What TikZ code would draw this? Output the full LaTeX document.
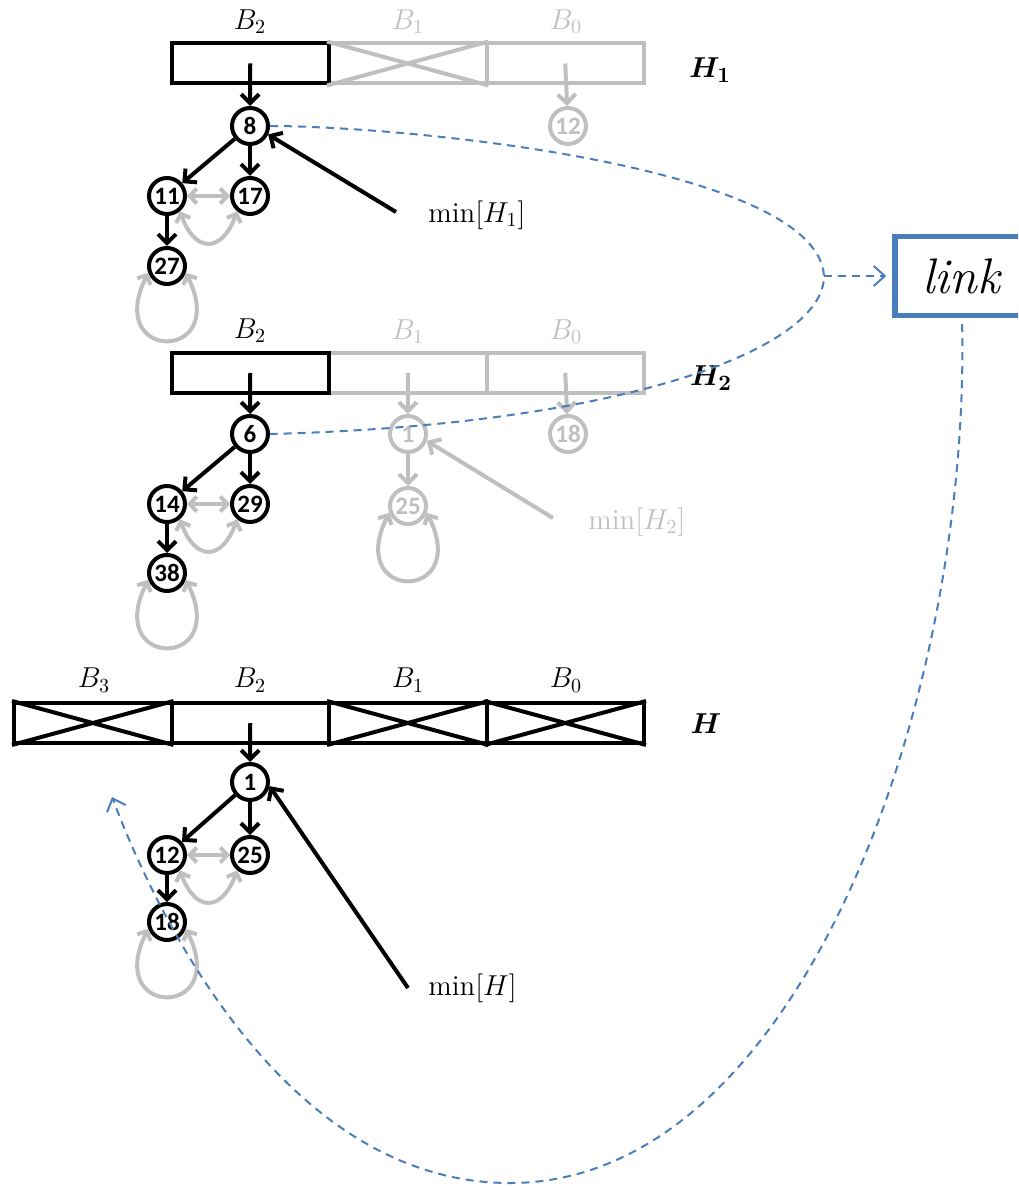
\documentclass[tikz,border=0pt]{standalone}
\usepackage{fontspec}
\usepackage{bm}
\usetikzlibrary{arrows.meta}
\newfontfamily\numfont{Carlito}
\definecolor{lgray}{HTML}{BFBFBF}
\definecolor{lblue}{HTML}{4A7EBB}
\tikzset{
    hnode/.style={circle,draw,line width=2pt,minimum size=18pt,inner sep=0pt,
        font=\numfont\bfseries\fontsize{12.5}{14}\selectfont},
    ghnode/.style={hnode,draw=lgray,text=lgray},
    ptr/.style={line width=2pt,-{Straight Barb[length=4.5pt,width=9pt]}},
    gptr/.style={ptr,draw=lgray},
    sib/.style={line width=2pt,lgray,
        {Straight Barb[length=3.5pt,width=7.5pt]}-{Straight Barb[length=3.5pt,width=7.5pt]}},
    cell/.style={rectangle,draw,line width=2pt,minimum width=78.75pt,minimum height=20pt,inner sep=0pt},
    gcell/.style={cell,draw=lgray},
    lbl/.style={inner sep=0pt,font=\fontsize{14.4}{17}\selectfont},
    hlbl/.style={inner sep=0pt,font=\fontsize{15}{18}\selectfont},
    linkbox/.style={draw=lblue,line width=2.75pt,minimum width=67pt,minimum height=39.5pt,
        font=\fontsize{25}{29}\selectfont},
    bref/.style={lblue,line width=1pt,dash pattern=on 4pt off 3pt},
    bhead/.style={-{Straight Barb[length=5.5pt,width=10pt]}}
}
\begin{document}
\begin{tikzpicture}[x=0.5pt,y=-0.5pt]
    \clip (0,0) rectangle (1018,1186);

    % Montículo H_1
    \node[gcell] (a1) at (407.75,63.5) {};
    \node[gcell] (a0) at (565.25,63.5) {};
    \node[cell] (a2) at (250.25,63.5) {};
    \draw[lgray,line width=2pt] (a1.north west) -- (a1.south east) (a1.south west) -- (a1.north east);
    \node[lbl] (la2) at (250,22) {$B_2$};
    \node[lbl,text=lgray] (la1) at (408,22) {$B_1$};
    \node[lbl,text=lgray] (la0) at (566,22) {$B_0$};
    \node[hlbl] (h1) at (710,70) {$\bm{H_1}$};

    \node[hnode] (n8) at (250,126) {8};
    \node[ghnode] (n12a) at (568,126) {12};
    \node[hnode] (n11) at (167,196) {11};
    \node[hnode] (n17) at (250,196) {17};
    \node[hnode] (n27) at (167,266) {27};
    \draw[ptr] (a2.center) -- (n8);
    \draw[gptr] (a0.center) -- (n12a);
    \draw[ptr] (n8) -- (n11);
    \draw[ptr] (n8) -- (n17);
    \draw[ptr] (n11) -- (n27);
    \draw[sib] (n11) -- (n17);
    \draw[sib] (n11.-50) to[out=-70,in=-110,looseness=2] (n17.-130);
    \draw[sib] (n27.200) .. controls +(-45,90) and +(45,90) .. (n27.340);

    \node[lbl,anchor=west] (m1) at (428,215) {$\min[H_1]$};
    \coordinate (t1) at (396,212);
    \draw[ptr] (t1) -- (n8.-25);

    % Montículo H_2
    \node[gcell] (b1) at (407.75,373) {};
    \node[gcell] (b0) at (565.25,373) {};
    \node[cell] (b2) at (250.25,373) {};
    \node[lbl] (lb2) at (250,331) {$B_2$};
    \node[lbl,text=lgray] (lb1) at (408,332) {$B_1$};
    \node[lbl,text=lgray] (lb0) at (566,332) {$B_0$};
    \node[hlbl] (h2) at (711,378) {$\bm{H_2}$};

    \node[hnode] (n6) at (250,434) {6};
    \node[ghnode] (n1a) at (408,434) {1};
    \node[ghnode] (n18a) at (568,434) {18};
    \node[hnode] (n14) at (167,504) {14};
    \node[hnode] (n29) at (250,504) {29};
    \node[hnode] (n38) at (167,573) {38};
    \node[ghnode] (n25a) at (408,506) {25};
    \draw[ptr] (b2.center) -- (n6);
    \draw[gptr] (b1.center) -- (n1a);
    \draw[gptr] (b0.center) -- (n18a);
    \draw[ptr] (n6) -- (n14);
    \draw[ptr] (n6) -- (n29);
    \draw[ptr] (n14) -- (n38);
    \draw[gptr] (n1a) -- (n25a);
    \draw[sib] (n14) -- (n29);
    \draw[sib] (n14.-50) to[out=-70,in=-110,looseness=2] (n29.-130);
    \draw[sib] (n38.200) .. controls +(-45,90) and +(45,90) .. (n38.340);
    \draw[sib] (n25a.200) .. controls +(-45,90) and +(45,90) .. (n25a.340);

    \node[lbl,anchor=west,text=lgray] (m2) at (588,522) {$\min[H_2]$};
    \coordinate (t2) at (553,518);
    \draw[gptr] (t2) -- (n1a.-20);

    % Montículo H
    \node[cell] (c3) at (92.75,723) {};
    \node[cell] (c2) at (250.25,723) {};
    \node[cell] (c1) at (407.75,723) {};
    \node[cell] (c0) at (565.25,723) {};
    \draw[line width=2pt] (c3.north west) -- (c3.south east) (c3.south west) -- (c3.north east);
    \draw[line width=2pt] (c1.north west) -- (c1.south east) (c1.south west) -- (c1.north east);
    \draw[line width=2pt] (c0.north west) -- (c0.south east) (c0.south west) -- (c0.north east);
    \node[lbl] (lc3) at (94,680) {$B_3$};
    \node[lbl] (lc2) at (250,680) {$B_2$};
    \node[lbl] (lc1) at (408,680) {$B_1$};
    \node[lbl] (lc0) at (566,680) {$B_0$};
    \node[hlbl] (h0) at (706,724) {$\bm{H}$};

    \node[hnode] (n1) at (250,782) {1};
    \node[hnode] (n12) at (167,855) {12};
    \node[hnode] (n25) at (250,855) {25};
    \node[hnode] (n18) at (167,922) {18};
    \draw[ptr] (c2.center) -- (n1);
    \draw[ptr] (n1) -- (n12);
    \draw[ptr] (n1) -- (n25);
    \draw[ptr] (n12) -- (n18);
    \draw[sib] (n12) -- (n25);
    \draw[sib] (n12.-50) to[out=-70,in=-110,looseness=2] (n25.-130);
    \draw[sib] (n18.200) .. controls +(-45,90) and +(45,90) .. (n18.340);

    \node[lbl,anchor=west] (m0) at (428,988) {$\min[H]$};
    \coordinate (t3) at (408,988);
    \draw[ptr] (t3) -- (n1.-12);

    % Operación link
    \node[linkbox] (lnk) at (962,276) {\textit{link}};
    \coordinate (jn) at (824,276);
    \coordinate (lend) at (112,797);
    \draw[bref] (n8.east) .. controls (400,126) and (817,165) .. (jn)
        .. controls (824,350) and (620,425) .. (n6.east);
    \draw[bref,bhead,shorten >=3pt] (jn) -- (lnk.west);
    \draw[bref,bhead,shorten <=3pt] (lnk.south) .. controls (970,700) and (800,1183) .. (510,1183)
        .. controls (300,1183) and (170,950) .. (lend);
\end{tikzpicture}
\end{document}
